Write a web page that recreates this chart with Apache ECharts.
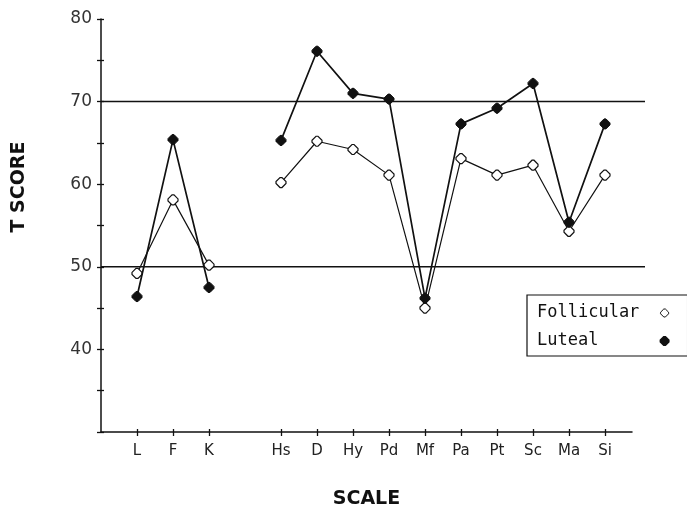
<!DOCTYPE html>
<html><head><meta charset="utf-8">
<script src="https://cdn.jsdelivr.net/npm/echarts@6/dist/echarts.min.js"></script>
<style>html,body{margin:0;padding:0;background:#fff}#c{width:687px;height:512px}</style>
</head><body><div id="c"></div>
<script>
// Scales in plotting order; the blank entry is the gap between the validity and clinical scales
const scales = ['L','F','K','','Hs','D','Hy','Pd','Mf','Pa','Pt','Sc','Ma','Si'];
const follicular = [49.2,58.1,50.2,null,60.2,65.2,64.2,61.1,45.0,63.1,61.1,62.3,54.3,61.1];
const luteal     = [46.4,65.4,47.5,null,65.3,76.1,71.0,70.3,46.2,67.3,69.2,72.2,55.4,67.3];
const yTickLabels = [40,50,60,70,80];
const refLines = [70,50];

const oct = 'path://M4,0 L6,0 L10,4 L10,6 L6,10 L4,10 L0,6 L0,4 Z';
const tickPos = scales.map((s,i)=>s ? i+1 : null).filter(v=>v!==null);
const toPairs = arr => arr.map((v,i)=>[i+1, v]);
const labelFont = 'DejaVu Sans';

const chart = echarts.init(document.getElementById('c'), null, {renderer:'canvas'});
const xCommon = {type:'value', min:0, max:14.75, gridIndex:0, position:'bottom'};
const yCommon = {type:'value', min:30, max:80, interval:5, gridIndex:0, position:'left'};
chart.setOption({
  backgroundColor:'#fff',
  animation:false,
  grid:[
    {left:101, right:55, top:19, bottom:80, containLabel:false, outerBoundsMode:'none'},
    {left:101, right:42, top:19, bottom:80, containLabel:false, outerBoundsMode:'none'}
  ],
  xAxis:[
    Object.assign({}, xCommon, {
      axisLine:{onZero:false, lineStyle:{color:'#111', width:1.5}},
      axisTick:{show:true, length:4, customValues:tickPos, lineStyle:{color:'#111', width:1.3}},
      axisLabel:{show:true, customValues:tickPos, margin:12, fontFamily:labelFont, fontSize:15, color:'#222',
        formatter:v=>scales[Math.round(v)-1] || ''},
      splitLine:{show:false},
      name:'SCALE', nameLocation:'middle', nameGap:58,
      nameTextStyle:{fontFamily:'DejaVu Sans', fontWeight:'bold', fontSize:19, color:'#111'}
    }),
    Object.assign({}, xCommon, {
      axisLine:{show:false, onZero:false},
      axisTick:{show:true, inside:true, length:3, customValues:tickPos, lineStyle:{color:'#111', width:1.3}},
      axisLabel:{show:false}, splitLine:{show:false}
    }),
    {type:'value', min:0, max:1, gridIndex:1, show:false}
  ],
  yAxis:[
    Object.assign({}, yCommon, {
      axisLine:{show:true, lineStyle:{color:'#111', width:1.5}},
      axisTick:{show:true, length:4, lineStyle:{color:'#111', width:1.3}},
      axisLabel:{show:true, customValues:yTickLabels, margin:9, fontFamily:labelFont, fontSize:17, color:'#333'},
      splitLine:{show:false}
    }),
    Object.assign({}, yCommon, {
      axisLine:{show:false},
      axisTick:{show:true, inside:true, length:3, lineStyle:{color:'#111', width:1.3}},
      axisLabel:{show:false}, splitLine:{show:false}
    }),
    {type:'value', min:30, max:80, gridIndex:1, show:false}
  ],
  legend:{
    left:527, top:295, orient:'vertical', align:'right',
    padding:[8,18,5,10], itemGap:8, itemWidth:8, itemHeight:8,
    borderColor:'#111', borderWidth:1.2,
    formatter:name=>name.padEnd(11,' '),
    textStyle:{fontFamily:'DejaVu Sans Mono', fontSize:17, lineHeight:20, color:'#111', padding:[0,6,0,0]},
    data:[
      {name:'Follicular', icon:oct, itemWidth:6, itemHeight:6, itemStyle:{color:'#fff', borderColor:'#111', borderWidth:1}},
      {name:'Luteal', icon:oct, itemStyle:{color:'#111'}}
    ]
  },
  graphic:[{
    type:'text', x:19.5, y:187, rotation:Math.PI/2,
    style:{text:'T SCORE', fontFamily:'DejaVu Sans', fontWeight:'bold', fontSize:19, fill:'#111',
      align:'center', verticalAlign:'middle'}
  }],
  series:[
    ...refLines.map(v=>({
      type:'line', xAxisIndex:2, yAxisIndex:2, data:[[0,v],[1,v]], symbol:'none', silent:true,
      lineStyle:{color:'#111', width:1.5}, z:1
    })),
    {
      name:'Follicular', type:'line', data:toPairs(follicular), connectNulls:false,
      symbol:oct, symbolSize:10,
      lineStyle:{color:'#111', width:1.2},
      itemStyle:{color:'#fff', borderColor:'#111', borderWidth:1.2}, z:3
    },
    {
      name:'Luteal', type:'line', data:toPairs(luteal), connectNulls:false,
      symbol:oct, symbolSize:10,
      lineStyle:{color:'#111', width:1.7},
      itemStyle:{color:'#111', borderColor:'#111', borderWidth:1}, z:4
    }
  ]
});
</script></body></html>
